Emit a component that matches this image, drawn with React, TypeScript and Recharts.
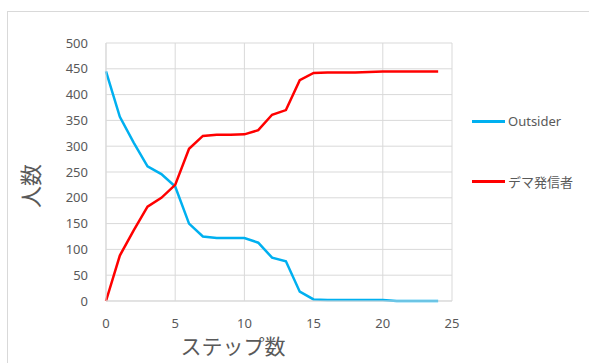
import { LineChart, Line, XAxis, YAxis, CartesianGrid, Legend, Label } from 'recharts';

const steps = [0, 1, 2, 3, 4, 5, 6, 7, 8, 9, 10, 11, 12, 13, 14, 15, 16, 17, 18, 19, 20, 21, 22, 23, 24];
const outsider = [445, 357, 307, 261, 246, 222, 150, 125, 122, 122, 122, 113, 84, 77, 18, 3, 2, 2, 2, 2, 2, 0, 0, 0, 0];
const spreader = [0, 88, 137, 183, 200, 225, 295, 320, 322, 322, 323, 331, 361, 370, 428, 442, 443, 443, 443, 444, 445, 445, 445, 445, 445];
const xTicks = [0, 5, 10, 15, 20, 25];
const yTicks = [0, 50, 100, 150, 200, 250, 300, 350, 400, 450, 500];

const data = steps.map((s, i) => ({ step: s, outsider: outsider[i], spreader: spreader[i] }));

const FONT = '"Noto Sans", "Noto Sans CJK JP", sans-serif';
const TEXT = '#595959';
const GRID = '#d9d9d9';

const legendItems = [
  { name: 'Outsider', color: '#00b0f0' },
  { name: 'デマ発信者', color: '#ff0000' },
];

const LegendContent = () => (
  <div style={{ fontFamily: FONT, fontSize: 13, color: TEXT, height: 80, whiteSpace: 'nowrap' }}>
    {legendItems.map((item, i) => (
      <div key={item.name} style={{ display: 'flex', alignItems: 'center', height: 20, marginBottom: i === 0 ? 40 : 0 }}>
        <span style={{ display: 'inline-block', width: 33, height: 3, background: item.color, marginRight: 3 }} />
        <span>{item.name}</span>
      </div>
    ))}
  </div>
);

const YTitle = ({ viewBox }: any) => {
  const cy = viewBox.y + viewBox.height / 2 + 14;
  return (
    <text x={30} y={cy} transform={`rotate(-90, 30, ${cy})`} textAnchor="middle" dominantBaseline="central"
      fill={TEXT} fontSize={22} fontFamily={FONT}>
      人数
    </text>
  );
};

const XTitle = ({ viewBox }: any) => (
  <text x={233} y={viewBox.y + 45} textAnchor="middle" dominantBaseline="central" fill={TEXT} fontSize={21} fontFamily={FONT}>
    ステップ数
  </text>
);

export default function App() {
  return (
    <div style={{ position: 'absolute', left: 0, top: 0, width: 589, height: 363, overflow: 'hidden', background: '#fff' }}>
      <div style={{ position: 'absolute', left: 7, top: 11, width: 700, height: 500, border: `1px solid ${GRID}` }} />
      <div style={{ position: 'absolute', left: 0, top: 0 }}>
        <LineChart width={589} height={363} data={data} margin={{ top: 43, right: 20, bottom: 0, left: 0 }}>
          <CartesianGrid stroke={GRID} verticalValues={xTicks} horizontalValues={yTicks} />
          <XAxis type="number" dataKey="step" domain={[0, 25]} ticks={xTicks} height={62}
            axisLine={{ stroke: GRID }} tickLine={false} tickMargin={12}
            tick={{ fill: TEXT, fontSize: 13, fontFamily: FONT }}>
            <Label content={<XTitle />} />
          </XAxis>
          <YAxis type="number" domain={[0, 500]} ticks={yTicks} width={106}
            axisLine={{ stroke: GRID }} tickLine={false} tickMargin={12}
            tick={{ fill: TEXT, fontSize: 13, fontFamily: FONT }}>
            <Label content={<YTitle />} />
          </YAxis>
          <Line dataKey="outsider" name="Outsider" stroke="#00b0f0" strokeWidth={2.5} dot={false} isAnimationActive={false} />
          <Line dataKey="spreader" name="デマ発信者" stroke="#ff0000" strokeWidth={2.5} dot={false} isAnimationActive={false} />
          <Legend content={<LegendContent />} layout="vertical" align="right" verticalAlign="middle"
            wrapperStyle={{ width: 117, top: 111, right: 0 }} />
        </LineChart>
      </div>
    </div>
  );
}
